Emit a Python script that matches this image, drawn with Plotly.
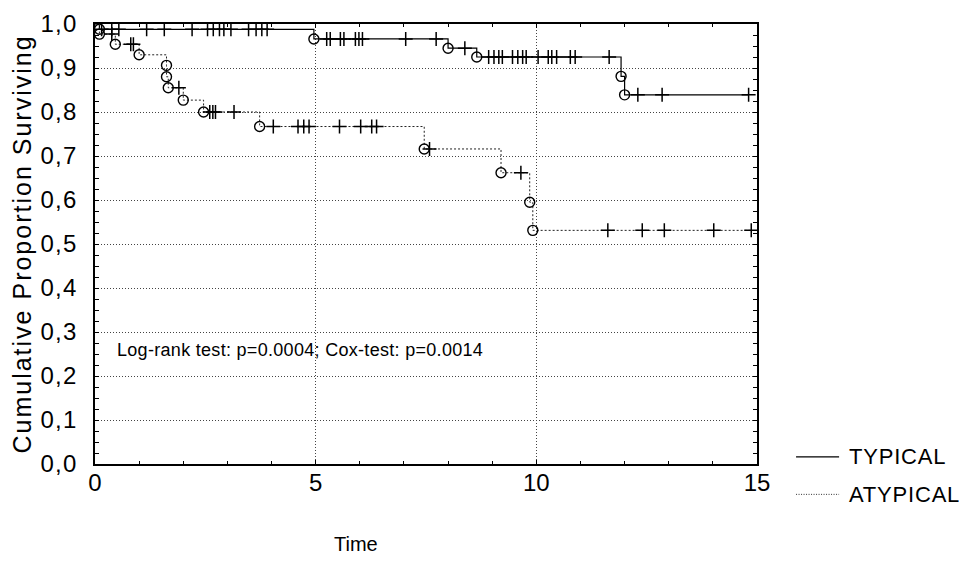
import plotly.graph_objects as go

# ---- data ----
typ_event_t = [0.10, 4.96, 8.00, 8.65, 11.92, 12.00]
typ_event_s = [0.988, 0.966, 0.945, 0.925, 0.881, 0.839]
typ_censor_t = [0.15, 0.38, 0.54, 1.17, 1.57, 2.20, 2.55, 2.68, 2.82, 2.92, 3.08,
                3.48, 3.65, 3.78, 3.90, 5.25, 5.33, 5.56, 5.64, 5.90, 5.98, 6.06,
                7.04, 7.73, 8.38, 8.92, 9.04, 9.15, 9.23, 9.46, 9.58, 9.69, 9.77,
                10.04, 10.27, 10.35, 10.46, 10.77, 10.88, 11.65, 12.30, 12.85, 14.81]

atyp_event_t = [0.10, 0.46, 1.00, 1.62, 1.62, 1.66, 2.00, 2.46, 3.73, 7.46, 9.20, 9.85, 9.92]
atyp_event_s = [0.977, 0.954, 0.930, 0.906, 0.880, 0.855, 0.827, 0.800, 0.767, 0.716, 0.662, 0.595, 0.531]
atyp_censor_t = [0.38, 0.81, 0.87, 1.90, 2.60, 2.67, 2.73, 3.15, 4.04, 4.60, 4.73, 4.85,
                 5.54, 6.02, 6.27, 6.38, 7.58, 9.65, 11.62, 12.40, 12.90, 14.02, 14.87]

series_names = ["TYPICAL", "ATYPICAL"]
y_ticks = [0, 0.1, 0.2, 0.3, 0.4, 0.5, 0.6, 0.7, 0.8, 0.9, 1.0]
y_ticklabels = ["0,0", "0,1", "0,2", "0,3", "0,4", "0,5", "0,6", "0,7", "0,8", "0,9", "1,0"]
x_ticks = [0, 5, 10, 15]
annotation_text = "Log-rank test: p=0.0004; Cox-test: p=0.0014"
y_title = "Cumulative Proportion Surviving"
x_title = "Time"

FONT = "Liberation Sans, Arial, sans-serif"


def spaced(text, px):
    return f'<span style="letter-spacing:{px}px">{text}</span>'


def surv_at(t, ev_t, ev_s):
    s = 1.0
    for et, es in zip(ev_t, ev_s):
        if et <= t:
            s = es
    return s


fig = go.Figure()

line_styles = [dict(color="black", width=1.2),
               dict(color="#222222", width=1, dash="2px,2px")]
groups = [
    (series_names[0], typ_event_t, typ_event_s, typ_censor_t, line_styles[0]),
    (series_names[1], atyp_event_t, atyp_event_s, atyp_censor_t, line_styles[1]),
]

for name, et, es, ct, lstyle in groups:
    end_t = max(ct + et)
    xs = [0] + list(et) + [end_t]
    ys = [1.0] + list(es) + [es[-1]]
    fig.add_trace(go.Scatter(x=xs, y=ys, mode="lines", line=dict(shape="hv", **lstyle),
                             name=name, showlegend=False, cliponaxis=False))
    fig.add_trace(go.Scatter(x=et, y=es, mode="markers", showlegend=False, cliponaxis=False,
                             marker=dict(symbol="circle-open", size=10, color="black",
                                         line=dict(width=1.4, color="black"))))
    cy = [surv_at(t, et, es) for t in ct]
    fig.add_trace(go.Scatter(x=ct, y=cy, mode="markers", showlegend=False, cliponaxis=False,
                             marker=dict(symbol="cross-thin", size=10, color="black",
                                         line=dict(width=1.5, color="black"))))

# statistics text
fig.add_annotation(x=0.45, y=0.26, xref="x", yref="y", text=spaced(annotation_text, 0.3),
                   showarrow=False, xanchor="left", yanchor="middle",
                   font=dict(family=FONT, size=18, color="black"))

# x axis title
fig.add_annotation(x=0.394, y=-0.182, xref="paper", yref="paper", text=x_title,
                   showarrow=False, xanchor="center", yanchor="middle",
                   font=dict(family=FONT, size=20, color="black"))

# legend (outside the plot, bottom right)
leg_y = [0.016, -0.069]
for name, ly, ls in zip(series_names, leg_y, [dict(color="black", width=1.2),
                                              dict(color="#333333", width=1, dash="1px,1.5px")]):
    fig.add_shape(type="line", xref="paper", yref="paper", x0=1.059, x1=1.124,
                  y0=ly, y1=ly, line=ls)
    fig.add_annotation(x=1.136, y=ly, xref="paper", yref="paper", text=spaced(name, 0.8),
                       showarrow=False, xanchor="left", yanchor="middle",
                       font=dict(family=FONT, size=22, color="black"))

fig.update_layout(
    width=967, height=581,
    margin=dict(l=87, r=218, t=16, b=125, autoexpand=False),
    paper_bgcolor="white", plot_bgcolor="white",
    font=dict(family=FONT, size=22, color="black"),
    showlegend=False,
)

fig.update_xaxes(range=[0, 15], tickvals=x_ticks, ticktext=[str(v) for v in x_ticks],
                 automargin=False, ticklabeloverflow="allow",
                 showline=True, linecolor="black", linewidth=1.5, mirror="ticks",
                 ticks="inside", ticklen=4, tickcolor="black",
                 showgrid=True, gridcolor="#444444", griddash="1px,2px", gridwidth=1,
                 zeroline=False, tickfont=dict(family=FONT, size=24),
                 ticklabelstandoff=-4,
                 minor=dict(dtick=1, ticks="inside", ticklen=3, tickcolor="black", showgrid=False))
fig.update_yaxes(range=[0, 1.0], tickvals=y_ticks,
                 ticktext=[spaced(t, 1.2) for t in y_ticklabels],
                 automargin=False, ticklabeloverflow="allow",
                 showline=True, linecolor="black", linewidth=1.5, mirror="ticks",
                 ticks="inside", ticklen=4, tickcolor="black",
                 showgrid=True, gridcolor="#444444", griddash="1px,2px", gridwidth=1,
                 zeroline=False, tickfont=dict(family=FONT, size=24),
                 ticklabelstandoff=11,
                 title=dict(text=spaced(y_title, 2), font=dict(family=FONT, size=25),
                            standoff=20),
                 minor=dict(dtick=0.025, ticks="inside", ticklen=4, tickcolor="black", showgrid=False))

fig.write_html("out.html")
